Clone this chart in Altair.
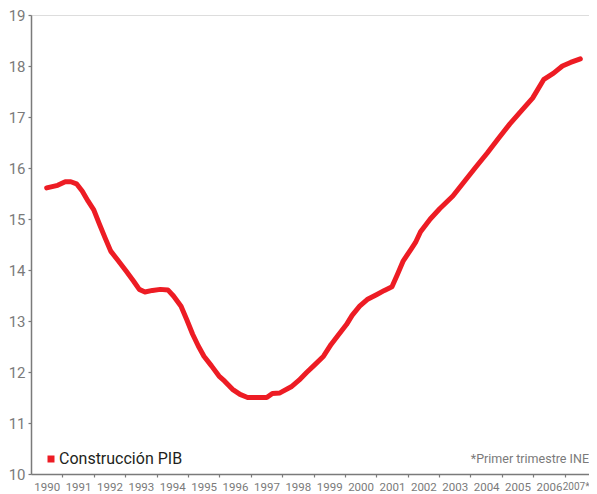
import altair as alt
import pandas as pd

# Traced series (decimal year, % of GDP)
years = [1990.0, 1990.35, 1990.59, 1990.77, 1990.95, 1991.13, 1991.32, 1991.50, 1991.68, 1991.86,
         1992.04, 1992.28, 1992.53, 1992.77, 1992.95, 1993.13, 1993.37, 1993.62, 1993.86, 1994.04,
         1994.28, 1994.46, 1994.65, 1994.83, 1995.01, 1995.25, 1995.49, 1995.67, 1995.92, 1996.16,
         1996.40, 1996.70, 1997.01, 1997.19, 1997.43, 1997.79, 1998.04, 1998.28, 1998.52, 1998.82,
         1999.06, 1999.31, 1999.55, 1999.73, 1999.97, 2000.21, 2000.52, 2000.76, 2001.00, 2001.18,
         2001.36, 2001.61, 2001.75, 2001.91, 2002.22, 2002.52, 2002.94, 2003.30, 2003.66, 2004.03,
         2004.39, 2004.75, 2005.12, 2005.48, 2005.84, 2006.15, 2006.43, 2006.69, 2007.00]
values = [15.61, 15.66, 15.73, 15.73, 15.69, 15.55, 15.35, 15.18, 14.90, 14.63,
          14.37, 14.18, 13.98, 13.78, 13.62, 13.57, 13.60, 13.62, 13.61, 13.49,
          13.29, 13.03, 12.74, 12.51, 12.31, 12.12, 11.92, 11.82, 11.66, 11.56,
          11.50, 11.50, 11.50, 11.58, 11.59, 11.71, 11.84, 11.99, 12.13, 12.31,
          12.54, 12.74, 12.93, 13.11, 13.29, 13.42, 13.52, 13.60, 13.67, 13.92,
          14.18, 14.41, 14.54, 14.75, 15.00, 15.20, 15.45, 15.73, 16.01, 16.29,
          16.58, 16.86, 17.12, 17.37, 17.74, 17.86, 18.00, 18.07, 18.14]
series_name = "Construcción PIB"
x_labels = ["1990", "1991", "1992", "1993", "1994", "1995", "1996", "1997", "1998", "1999",
            "2000", "2001", "2002", "2003", "2004", "2005", "2006", "2007*"]
y_ticks = [10, 11, 12, 13, 14, 15, 16, 17, 18, 19]
note_text = "*Primer trimestre INE"

W, H = 558, 459          # visible plot box (page is 581px wide inside its margins)
XR = 565                 # full x range of the original axis (runs past the right edge)
band = XR / len(x_labels)
GREY = "#7a7a7a"
RED = "#ed1c24"
FONT = "Roboto"

df = pd.DataFrame({"year": years, "value": values, "serie": series_name})

tick_vals = [1990.5 + i for i in range(len(x_labels))]
label_expr = "[" + ",".join("'%s'" % l for l in x_labels) + "][round(datum.value - 1990.5)]"
last_test = "datum.value > 2007"

line = alt.Chart(df).mark_line(strokeWidth=5, strokeJoin="round", strokeCap="round").encode(
    x=alt.X("year:Q",
            scale=alt.Scale(domain=[1989.5, 2007.5], range=[0, XR], nice=False, zero=False),
            axis=alt.Axis(values=tick_vals, labelExpr=label_expr,
                          labelOffset={"condition": {"test": last_test, "value": -(XR - W)},
                                       "value": -band / 2},
                          labelAlign={"condition": {"test": last_test, "value": "right"},
                                      "value": "center"},
                          labelFontSize={"condition": {"test": last_test, "value": 10},
                                         "value": 11.5},
                          title=None, grid=False, tickSize=3, tickColor=GREY, tickWidth=1.2,
                          domainColor=GREY, domainWidth=1.5, labelColor=GREY, labelFont=FONT,
                          labelPadding=4, labelOverlap=False,
                          labelFlush=False, labelBound=False)),
    y=alt.Y("value:Q",
            scale=alt.Scale(domain=[10, 19], nice=False, zero=False),
            axis=alt.Axis(values=y_ticks, title=None, grid=False, tickSize=3, tickColor=GREY,
                          tickWidth=1.2, domainColor=GREY, domainWidth=1.5, labelColor=GREY,
                          labelFont=FONT, labelFontSize=15, labelPadding=3)),
    color=alt.Color("serie:N", scale=alt.Scale(domain=[series_name], range=[RED]),
                    legend=alt.Legend(title=None, orient="none", legendX=12, legendY=436,
                                      symbolType="square", symbolSize=49, symbolFillColor=RED,
                                      symbolStrokeWidth=0, labelFont=FONT, labelFontSize=16,
                                      labelColor="#231f20", labelOffset=0)),
)

note = alt.Chart(pd.DataFrame({"t": [note_text]})).mark_text(
    align="right", baseline="alphabetic", font=FONT, fontSize=12.5, color=GREY
).encode(x=alt.value(W), y=alt.value(448), text="t:N")

chart = alt.layer(line, note).properties(
    width=W, height=H,
    autosize=alt.AutoSizeParams(type="none"),
    padding={"left": 23, "top": 7, "right": 0, "bottom": 22},
).configure_view(stroke=None).configure(background="white")

chart.save("out.html", embed_options={"renderer": "svg", "actions": False})
